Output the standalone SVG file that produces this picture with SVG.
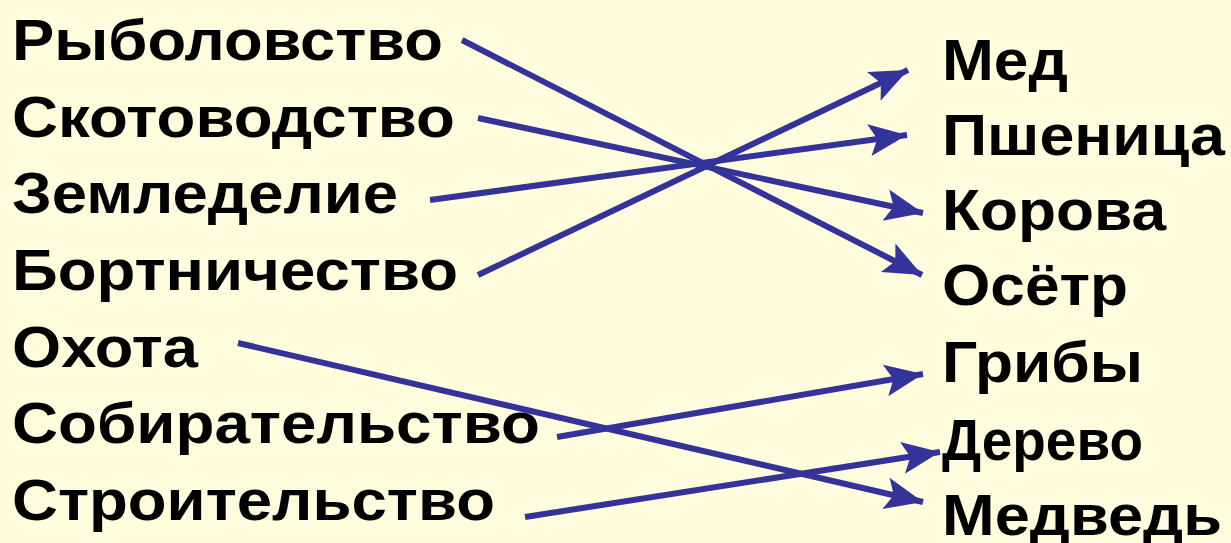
<svg xmlns="http://www.w3.org/2000/svg" width="1231" height="543" viewBox="0 0 1231 543">
<style>
text{font-family:"Liberation Sans",Arial,sans-serif;font-weight:bold;font-size:57px;fill:#000}
.c line{stroke:#333399;stroke-width:6;marker-end:url(#ah)}
</style>
<defs>
<marker id="ah" markerUnits="userSpaceOnUse" markerWidth="44" markerHeight="34" refX="38" refY="16" orient="auto">
<path d="M0,0 L38,16 L0,32 L8,16 Z" fill="#333399"/>
</marker>
</defs>
<rect width="1231" height="543" fill="#FFFDDD"/>
<g id="left">
<g id="n-ryb"><text x="12" y="60" textLength="431" lengthAdjust="spacingAndGlyphs">Рыболовство</text></g>
<g id="n-skot"><text x="12" y="137" textLength="443" lengthAdjust="spacingAndGlyphs">Скотоводство</text></g>
<g id="n-zem"><text x="12" y="213" textLength="386" lengthAdjust="spacingAndGlyphs">Земледелие</text></g>
<g id="n-bort"><text x="12" y="290" textLength="446" lengthAdjust="spacingAndGlyphs">Бортничество</text></g>
<g id="n-ohota"><text x="12" y="367" textLength="186" lengthAdjust="spacingAndGlyphs">Охота</text></g>
<g id="n-sob"><text x="12" y="443" textLength="528" lengthAdjust="spacingAndGlyphs">Собирательство</text></g>
<g id="n-str"><text x="12" y="520" textLength="483" lengthAdjust="spacingAndGlyphs">Строительство</text></g>
</g>
<g id="right">
<g id="n-med"><text x="942" y="80" textLength="126" lengthAdjust="spacingAndGlyphs">Мед</text></g>
<g id="n-psh"><text x="942" y="155" textLength="283" lengthAdjust="spacingAndGlyphs">Пшеница</text></g>
<g id="n-kor"><text x="942" y="230" textLength="224" lengthAdjust="spacingAndGlyphs">Корова</text></g>
<g id="n-oset"><text x="942" y="305" textLength="186" lengthAdjust="spacingAndGlyphs">Осётр</text></g>
<g id="n-grib"><text x="942" y="382" textLength="201" lengthAdjust="spacingAndGlyphs">Грибы</text></g>
<g id="n-der"><text x="942" y="460" textLength="201" lengthAdjust="spacingAndGlyphs">Дерево</text></g>
<g id="n-medv"><text x="942" y="535" textLength="280" lengthAdjust="spacingAndGlyphs">Медведь</text></g>
</g>
<g id="connectors" class="c">
<line x1="462" y1="40" x2="922" y2="275"/>
<line x1="478" y1="118" x2="923" y2="213"/>
<line x1="430" y1="200" x2="907" y2="135"/>
<line x1="478" y1="275" x2="908" y2="70"/>
<line x1="238" y1="343" x2="923" y2="502"/>
<line x1="557" y1="437" x2="923" y2="374"/>
<line x1="525" y1="517" x2="940" y2="452"/>
</g>
</svg>
